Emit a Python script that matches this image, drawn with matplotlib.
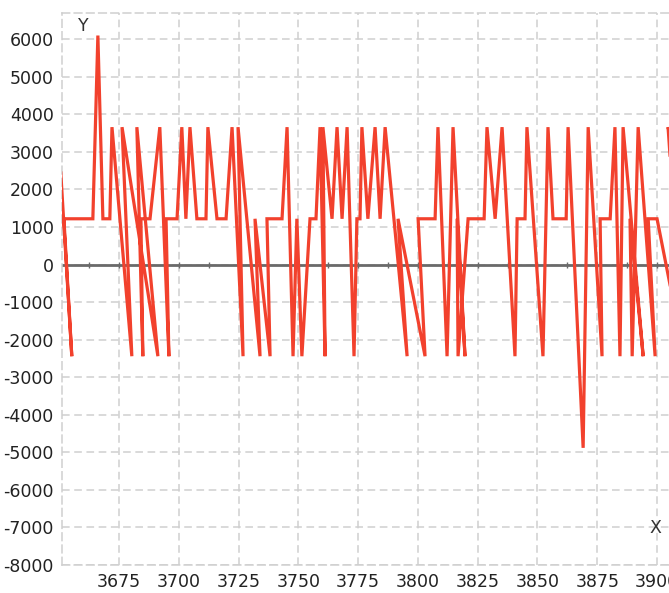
import numpy as np
import matplotlib.pyplot as plt

plt.rcParams['axes.unicode_minus'] = False
plt.rcParams['font.family'] = ['DejaVu Sans']

# Levels used by the series
H, M, L = 3660, 1220, -2440

# Series (x, y) in drawing order
x = [3650.7, 3655.3, 3652.0, 3664.1, 3666.2, 3668.3, 3671.2, 3672.1, 3680.4, 3676.3,
     3691.3, 3682.5, 3685.0, 3684.2, 3688.0, 3692.1, 3695.9, 3694.7, 3699.3, 3701.3,
     3703.0, 3704.7, 3707.6, 3711.4, 3712.2, 3716.0, 3719.8, 3722.3, 3726.9, 3724.8,
     3734.0, 3731.9, 3738.2, 3736.9, 3743.2, 3745.3, 3747.8, 3749.4, 3751.5, 3754.9,
     3757.4, 3759.1, 3761.2, 3760.3, 3764.1, 3766.2, 3768.3, 3770.4, 3773.3, 3774.5,
     3775.8, 3776.6, 3779.1, 3782.1, 3784.2, 3786.3, 3795.5, 3791.7, 3803.0, 3800.1,
     3807.2, 3808.4, 3812.2, 3814.7, 3819.7, 3816.4, 3816.8, 3821.0, 3827.7, 3828.9,
     3832.3, 3835.2, 3840.6, 3841.5, 3844.8, 3845.6, 3852.3, 3854.4, 3856.5, 3862.0,
     3862.8, 3869.1, 3871.2, 3877.0, 3876.2, 3880.4, 3882.4, 3884.5, 3885.8, 3894.2,
     3888.7, 3889.6, 3892.1, 3899.2, 3896.3, 3900.0, 3911.3, 3904.6, 3913.8]
y = [2440, L, M, M, 6100, M, M, H, L, H,
     L, H, L, M, M, H, L, M, M, H,
     M, H, M, M, H, M, M, H, L, H,
     L, M, L, M, M, H, L, M, L, M,
     M, H, L, H, M, H, M, H, L, M,
     M, H, M, H, M, H, L, M, L, M,
     M, H, L, H, L, M, L, M, M, H,
     M, H, L, M, M, H, L, H, M, M,
     H, -4880, H, L, M, M, H, L, H, L,
     M, L, H, L, M, M, L, H, M]

xticks = np.arange(3675, 3901, 25)
yticks = np.arange(-8000, 6001, 1000)

fig = plt.figure(figsize=(6.69, 5.93), dpi=100)
ax = fig.add_axes([62 / 669, 28 / 593, 607 / 669, 552 / 593])

grid_color = '#cfcfcf'
ax.set_xlim(3651.2, 3905)
ax.set_ylim(-8000, 6700)
ax.set_xticks(xticks)
ax.set_yticks(yticks)
ax.grid(True, color=grid_color, linestyle=(0, (5, 3)), linewidth=1.1)
for side in ['left', 'top', 'right', 'bottom']:
    ax.spines[side].set_color(grid_color)
    ax.spines[side].set_linestyle((0, (5, 3)))
    ax.spines[side].set_linewidth(1.1)
ax.spines['right'].set_visible(False)
ax.tick_params(length=0, labelsize=12.5, labelcolor='#222222', pad=6)

# zero axis with small ticks
ax.axhline(0, color='#6a6a6a', linewidth=2, zorder=2)
minor = np.arange(3662.5, 3905, 12.5)
ax.plot(minor, np.zeros_like(minor), linestyle='none', marker='|',
        markersize=5, color='#6a6a6a', zorder=2)

ax.plot(x, y, color='#f2412d', linewidth=2.3, zorder=3, solid_joinstyle='miter')

ax.text(0.035, 0.976, 'Y', transform=ax.transAxes, fontsize=12.5,
        color='#333333', ha='center', va='center')
ax.text(0.977, 0.067, 'X', transform=ax.transAxes, fontsize=12.5,
        color='#333333', ha='center', va='center')

fig.savefig('out.png', dpi=100)
